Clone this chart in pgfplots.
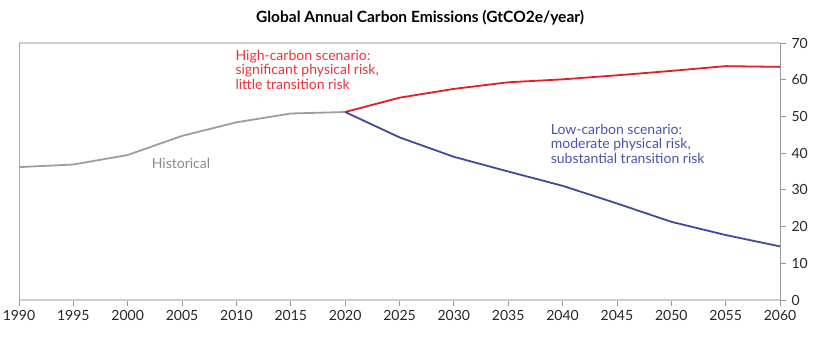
\documentclass[border=0pt]{standalone}
\usepackage{fontspec}
\setmainfont{Lato}
\usepackage{pgfplots}
\pgfplotsset{compat=1.18}
\definecolor{histgrey}{RGB}{158,158,158}
\definecolor{high}{RGB}{228,30,38}
\definecolor{low}{RGB}{62,74,162}
\definecolor{hightext}{RGB}{232,52,56}
\definecolor{lowtext}{RGB}{72,84,172}
\definecolor{histtext}{RGB}{138,138,138}
\definecolor{axgrey}{RGB}{150,150,150}
\definecolor{lightgrey}{RGB}{205,205,205}
\begin{document}
\begin{tikzpicture}
\begin{axis}[
  at={(0,0)}, anchor=south west,
  scale only axis, width=761pt, height=257pt,
  xmin=1990, xmax=2060, ymin=0, ymax=70,
  axis line style={draw=none},
  xtick={1990,1995,...,2060},
  ytick={0,10,...,70},
  xtick pos=bottom, ytick pos=right,
  tick align=outside,
  major tick length=6pt,
  tick style={axgrey, line width=0.8pt},
  /pgf/number format/assume math mode=true,
  /pgf/number format/1000 sep={},
  x tick label style={font=\fontsize{14}{16}\selectfont, text=black!85, yshift=-1pt},
  y tick label style={font=\fontsize{14}{16}\selectfont, text=black!85, xshift=2pt},
  clip=false,
]
\addplot[histgrey, line width=1.8pt] coordinates {
(1990,36.2) (1995,36.9) (2000,39.5) (2005,44.7) (2010,48.4) (2015,50.8) (2020,51.2)};
\addplot[high, line width=1.8pt] coordinates {
(2020,51.2) (2025,55.1) (2030,57.5) (2035,59.3) (2040,60.1) (2045,61.2) (2050,62.4) (2055,63.7) (2060,63.5)};
\addplot[low, line width=1.8pt] coordinates {
(2020,51.2) (2025,44.3) (2030,39.0) (2035,35.0) (2040,31.1) (2045,26.3) (2050,21.3) (2055,17.7) (2060,14.6)};
\draw[lightgrey, line width=1.6pt] (rel axis cs:0,1) -- (rel axis cs:1,1);
\draw[lightgrey, line width=2pt] (rel axis cs:0,0) -- (rel axis cs:1,0);
\draw[axgrey!80, line width=0.9pt] (rel axis cs:0,0) -- (rel axis cs:0,1);
\draw[axgrey, line width=0.9pt] (rel axis cs:1,0) -- (rel axis cs:1,1);
\node[anchor=west, align=left, inner sep=0pt, text=hightext, font=\fontsize{14}{14.5}\selectfont] at (axis cs:2009.9,62.7) {High-carbon scenario:\\significant physical risk,\\little transition risk};
\node[anchor=west, align=left, inner sep=0pt, text=lowtext, font=\fontsize{14}{14.5}\selectfont] at (axis cs:2038.9,42.6) {Low-carbon scenario:\\moderate physical risk,\\substantial transition risk};
\node[inner sep=0pt, text=histtext, font=\fontsize{14}{16}\selectfont] at (axis cs:2004.9,37.2) {Historical};
\end{axis}
\node[font=\bfseries\fontsize{15.5}{17}\selectfont] at (401pt,282pt) {Global Annual Carbon Emissions (GtCO2e/year)};
\pgfresetboundingbox
\path (-19pt,-38pt) rectangle (821pt,300pt);
\end{tikzpicture}
\end{document}
